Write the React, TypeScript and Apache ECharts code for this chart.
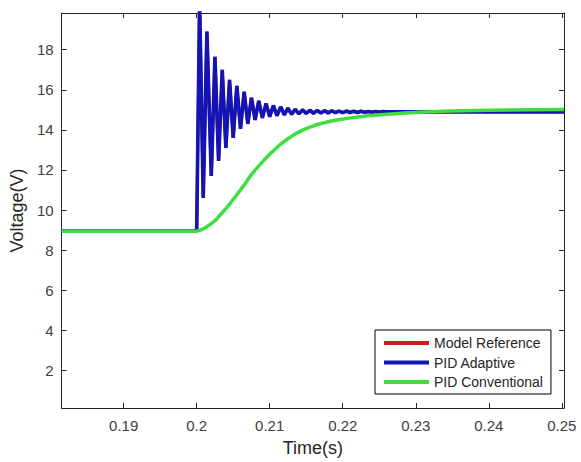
import { useEffect, useRef } from "react";
import * as echarts from "echarts";

const FONT = "'Liberation Sans', Arial, sans-serif";

const X_MIN = 0.1815;
const X_MAX = 0.2503;
const Y_MIN = 0.13;
const Y_MAX = 19.83;
const X_TICKS = [0.19, 0.2, 0.21, 0.22, 0.23, 0.24, 0.25];
const Y_TICKS = [2, 4, 6, 8, 10, 12, 14, 16, 18];

const SERIES_NAMES = ["Model Reference", "PID Adaptive", "PID Conventional"];

// PID Adaptive (oscillating response)
const adaptiveTime = [
  0.1815, 0.2, 0.2004, 0.2009, 0.2014, 0.202, 0.2025, 0.203, 0.2035, 0.204,
  0.2045, 0.205, 0.2055, 0.206, 0.2065, 0.207, 0.2075, 0.208, 0.2085, 0.209,
  0.2095, 0.21, 0.2105, 0.211, 0.2115, 0.212, 0.2125, 0.213, 0.2135, 0.214,
  0.2145, 0.215, 0.2155, 0.216, 0.2165, 0.217, 0.2175, 0.218, 0.2185, 0.219,
  0.2195, 0.22, 0.2205, 0.221, 0.2215, 0.222, 0.2225, 0.223, 0.2235, 0.224,
  0.2245, 0.225, 0.2255, 0.226, 0.2503,
];
const adaptiveVolt = [
  8.95, 8.95, 20.4, 10.6, 18.9, 11.7, 17.65, 12.45, 17.0, 13.1,
  16.5, 13.6, 16.2, 14.05, 15.9, 14.3, 15.6, 14.5, 15.45, 14.6,
  15.32, 14.66, 15.22, 14.71, 15.15, 14.75, 15.08, 14.78, 15.03, 14.8,
  15.0, 14.82, 14.98, 14.83, 14.97, 14.84, 14.96, 14.85, 14.95, 14.86,
  14.94, 14.86, 14.94, 14.87, 14.93, 14.87, 14.93, 14.88, 14.92, 14.88,
  14.92, 14.89, 14.91, 14.9, 14.9,
];

// Model Reference (tracked closely by the adaptive controller, hidden beneath it)
const referenceTime = adaptiveTime;
const referenceVolt = adaptiveVolt;

// PID Conventional (smooth S-shaped response)
const conventionalTime = [
  0.1815, 0.2, 0.2005, 0.2012, 0.2019, 0.2026, 0.2032, 0.2039, 0.2046, 0.2053,
  0.206, 0.2067, 0.2073, 0.208, 0.2087, 0.2094, 0.2101, 0.2108, 0.2114, 0.2125,
  0.2135, 0.2145, 0.2155, 0.2165, 0.2178, 0.2192, 0.2211, 0.2235, 0.2256, 0.2285,
  0.2311, 0.2348, 0.24, 0.2503,
];
const conventionalVolt = [
  8.95, 8.95, 9.0, 9.12, 9.3, 9.5, 9.75, 10.03, 10.34, 10.67,
  11.0, 11.35, 11.68, 11.99, 12.28, 12.56, 12.82, 13.06, 13.26, 13.56,
  13.8, 13.99, 14.14, 14.27, 14.39, 14.49, 14.6, 14.7, 14.77, 14.84,
  14.89, 14.94, 14.98, 15.02,
];

const COLORS = ["#c81e1e", "#1414b4", "#3ede3e"];
const WIDTHS = [3, 3.6, 3.5];

const zip = (xs: number[], ys: number[]) => xs.map((x, i) => [x, ys[i]]);

export default function App() {
  const ref = useRef<HTMLDivElement>(null);

  useEffect(() => {
    if (!ref.current) return;
    const chart = echarts.init(ref.current, undefined, { renderer: "svg" });

    const axisLine = { show: true, onZero: false, lineStyle: { color: "#262626", width: 1 } };

    const datasets = [
      zip(referenceTime, referenceVolt),
      zip(adaptiveTime, adaptiveVolt),
      zip(conventionalTime, conventionalVolt),
    ];

    chart.setOption({
      animation: false,
      backgroundColor: "#ffffff",
      grid: { left: 61, right: 17, top: 13, bottom: 51, containLabel: false },
      legend: {
        orient: "vertical",
        left: 375,
        top: 330,
        padding: [6, 8, 5, 9],
        itemWidth: 45,
        itemHeight: 4,
        itemGap: 5.5,
        icon: "rect",
        backgroundColor: "#ffffff",
        borderColor: "#000000",
        borderWidth: 1,
        borderRadius: 0,
        textStyle: { fontSize: 14, color: "#262626", fontFamily: FONT, lineHeight: 14 },
        data: SERIES_NAMES,
      },
      xAxis: [
        {
          type: "value",
          min: X_MIN,
          max: X_MAX,
          position: "bottom",
          name: "Time(s)",
          nameLocation: "middle",
          nameGap: 31,
          nameTextStyle: { fontSize: 18, color: "#262626", fontFamily: FONT },
          axisLine,
          axisTick: {
            show: true,
            inside: true,
            length: 5,
            customValues: X_TICKS,
            lineStyle: { color: "#262626" },
          },
          axisLabel: {
            customValues: X_TICKS,
            fontSize: 15,
            color: "#404040",
            margin: 10,
            fontFamily: FONT,
          },
          splitLine: { show: false },
        },
        {
          type: "value",
          min: X_MIN,
          max: X_MAX,
          position: "top",
          axisLine,
          axisTick: {
            show: true,
            inside: true,
            length: 5,
            customValues: X_TICKS,
            lineStyle: { color: "#262626" },
          },
          axisLabel: { show: false },
          splitLine: { show: false },
        },
      ],
      yAxis: [
        {
          type: "value",
          min: Y_MIN,
          max: Y_MAX,
          position: "left",
          name: "Voltage(V)",
          nameLocation: "middle",
          nameGap: 28,
          nameRotate: 90,
          nameTextStyle: { fontSize: 18, color: "#262626", fontFamily: FONT },
          axisLine,
          axisTick: {
            show: true,
            inside: true,
            length: 5,
            customValues: Y_TICKS,
            lineStyle: { color: "#262626" },
          },
          axisLabel: {
            customValues: Y_TICKS,
            fontSize: 15,
            color: "#404040",
            margin: 8,
            fontFamily: FONT,
          },
          splitLine: { show: false },
        },
        {
          type: "value",
          min: Y_MIN,
          max: Y_MAX,
          position: "right",
          axisLine,
          axisTick: {
            show: true,
            inside: true,
            length: 5,
            customValues: Y_TICKS,
            lineStyle: { color: "#262626" },
          },
          axisLabel: { show: false },
          splitLine: { show: false },
        },
      ],
      series: SERIES_NAMES.map((name, i) => ({
        name,
        type: "line",
        xAxisIndex: 0,
        yAxisIndex: 0,
        data: datasets[i],
        showSymbol: false,
        symbol: "none",
        clip: true,
        color: COLORS[i],
        lineStyle: { color: COLORS[i], width: WIDTHS[i] },
        z: 2 + i,
      })),
    });

    return () => chart.dispose();
  }, []);

  return (
    <div
      ref={ref}
      style={{ position: "fixed", left: 0, top: 0, width: 581, height: 462 }}
    />
  );
}
